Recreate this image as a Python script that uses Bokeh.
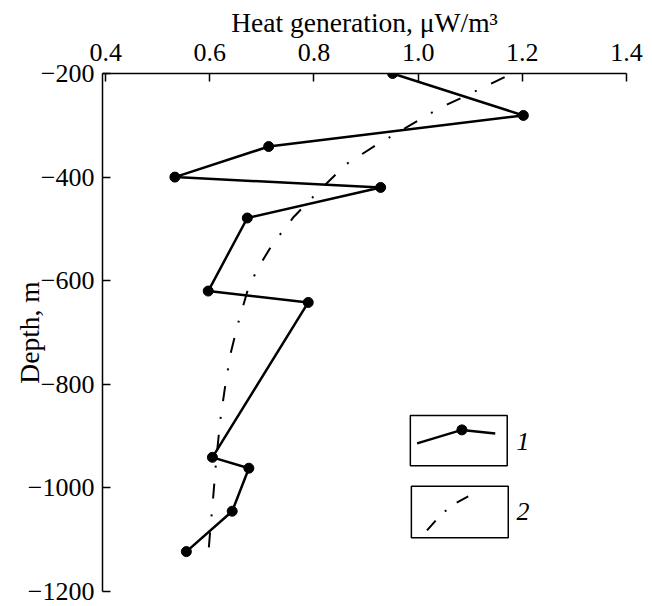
from bokeh.plotting import figure
from bokeh.models import Range1d, FixedTicker
from bokeh.core.properties import value
from bokeh.embed import file_html
from bokeh.resources import INLINE

# Series 1: measured heat generation vs depth
heat_1 = [0.951, 1.202, 0.713, 0.533, 0.928, 0.672, 0.597, 0.789, 0.605, 0.675, 0.643, 0.555]
depth_1 = [-200, -281, -341, -400, -420, -479, -620, -642, -941, -962, -1045, -1123]

# Series 2: smoothed trend (dash-dot)
heat_2 = [1.166, 1.104, 1.041, 0.976, 0.918, 0.862, 0.809, 0.761, 0.720, 0.690,
          0.672, 0.655, 0.640, 0.630, 0.620, 0.612, 0.606, 0.601, 0.596]
depth_2 = [-207, -237, -267, -305, -339, -375, -427, -477, -530, -580,
           -621, -680, -740, -800, -870, -950, -1024, -1080, -1142]

x_ticks = [0.4, 0.6, 0.8, 1.0, 1.2, 1.4]
x_tick_labels = ["0.4", "0.6", "0.8", "1.0", "1.2", "1.4"]
y_ticks = [-200, -400, -600, -800, -1000, -1200]
y_tick_labels = ["\u2212200", "\u2212400", "\u2212600", "\u2212800", "\u22121000", "\u22121200"]

legend_labels = ["1", "2"]

FONT = "Liberation Serif"
DASHDOT = "15 16 2 16"

p = figure(width=652, height=606,
           x_range=Range1d(0.394, 1.4), y_range=Range1d(-1200, -200),
           x_axis_location="above",
           output_backend="svg", toolbar_location=None,
           min_border_left=102, min_border_right=26,
           min_border_top=73, min_border_bottom=15)
p.outline_line_color = None
p.grid.visible = False
p.background_fill_color = "white"
p.border_fill_color = "white"

xa = p.xaxis[0]
ya = p.yaxis[0]
xa.ticker = FixedTicker(ticks=x_ticks)
xa.major_label_overrides = {t: l for t, l in zip(x_ticks, x_tick_labels)}
ya.ticker = FixedTicker(ticks=y_ticks)
ya.major_label_overrides = {t: l for t, l in zip(y_ticks, y_tick_labels)}
xa.axis_label = "Heat generation, \u03bcW/m\u00b3"
ya.axis_label = "Depth, m"

for ax in (xa, ya):
    ax.major_tick_in = 8
    ax.major_tick_out = 0
    ax.minor_tick_in = 0
    ax.minor_tick_out = 0
    ax.axis_line_width = 1.5
    ax.axis_line_color = "black"
    ax.major_tick_line_width = 1.5
    ax.major_tick_line_color = "black"
    ax.major_label_text_font = FONT
    ax.major_label_text_font_size = "26px"
    ax.major_label_text_color = "black"
    ax.axis_label_text_font = FONT
    ax.axis_label_text_font_size = "27.5px"
    ax.axis_label_text_font_style = "normal"
    ax.axis_label_text_color = "black"

xa.major_label_standoff = 13
xa.axis_label_standoff = 3
ya.major_label_standoff = 8
ya.axis_label_standoff = -20

# data
p.line(heat_2, depth_2, line_color="black", line_width=2, line_dash=DASHDOT)
p.line(heat_1, depth_1, line_color="black", line_width=2.5)
p.scatter(heat_1, depth_1, size=10, color="black")

# legend (decoration)
p.quad(left=[0.985, 0.987], right=[1.171, 1.173], top=[-860, -997], bottom=[-957, -1096],
       fill_color=None, line_color="black", line_width=1.5)
p.line([0.998, 1.084, 1.148], [-914, -888, -895], line_color="black", line_width=2.5)
p.scatter([1.084], [-888], size=10, color="black")
p.line([1.017, 1.040, 1.065, 1.099], [-1082, -1056, -1033, -1015],
       line_color="black", line_width=2, line_dash="13 13 2 13")
p.text(x=[1.189, 1.189], y=[-910, -1045], text=legend_labels,
       text_font=value(FONT), text_font_style="italic", text_font_size="26px",
       text_baseline="middle", text_align="left", text_color="black")

open("out.html", "w").write(file_html(p, INLINE))
